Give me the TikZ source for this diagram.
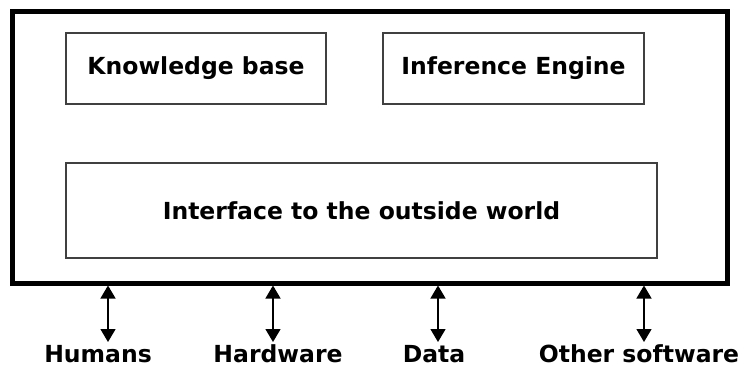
\documentclass[tikz,border=0pt]{standalone}
\usepackage{fontspec}
\setmainfont{DejaVu Sans}
\usetikzlibrary{arrows.meta}
\begin{document}
\begin{tikzpicture}[x=1pt,y=-1pt,
  outerbox/.style={draw=black,line width=4.5pt},
  partbox/.style={draw=black!75,line width=1.4pt,inner sep=0pt},
  lbl/.style={font=\fontsize{23.5}{28}\selectfont\bfseries},
  party/.style={lbl,inner sep=0pt,anchor=base},
  link/.style={line width=1.4pt,{Triangle[length=13pt,width=15pt]}-{Triangle[length=13pt,width=15pt]}}]
\useasboundingbox (0,0) rectangle (745,368);
% system boundary
\node[outerbox,minimum width=715pt,minimum height=272pt,anchor=north west] (sys) at (10,9) {};
% components
\node[partbox,minimum width=260pt,minimum height=71pt] (kb) at (196,68.5) {};
\node[lbl] at (kb.center) {Knowledge base};
\node[partbox,minimum width=261pt,minimum height=71pt] (ie) at (513.5,68.5) {};
\node[lbl] at (ie.center) {Inference Engine};
\node[partbox,minimum width=591pt,minimum height=95pt] (itf) at (361.5,210.5) {};
\node[lbl] at (itf.center) {Interface to the outside world};
% external parties
\node[party] (hum) at (98,362) {Humans};
\node[party] (hw) at (278,362) {Hardware};
\node[party] (dat) at (434,362) {Data};
\node[party] (oth) at (639,362) {Other software};
\coordinate (h1) at (108,285.5);
\coordinate (h2) at (108,342);
\coordinate (w1) at (273,285.5);
\coordinate (w2) at (273,342);
\coordinate (d1) at (438,285.5);
\coordinate (d2) at (438,342);
\coordinate (o1) at (644,285.5);
\coordinate (o2) at (644,342);
\draw[link] (h1) -- (h2);
\draw[link] (w1) -- (w2);
\draw[link] (d1) -- (d2);
\draw[link] (o1) -- (o2);
\end{tikzpicture}
\end{document}
